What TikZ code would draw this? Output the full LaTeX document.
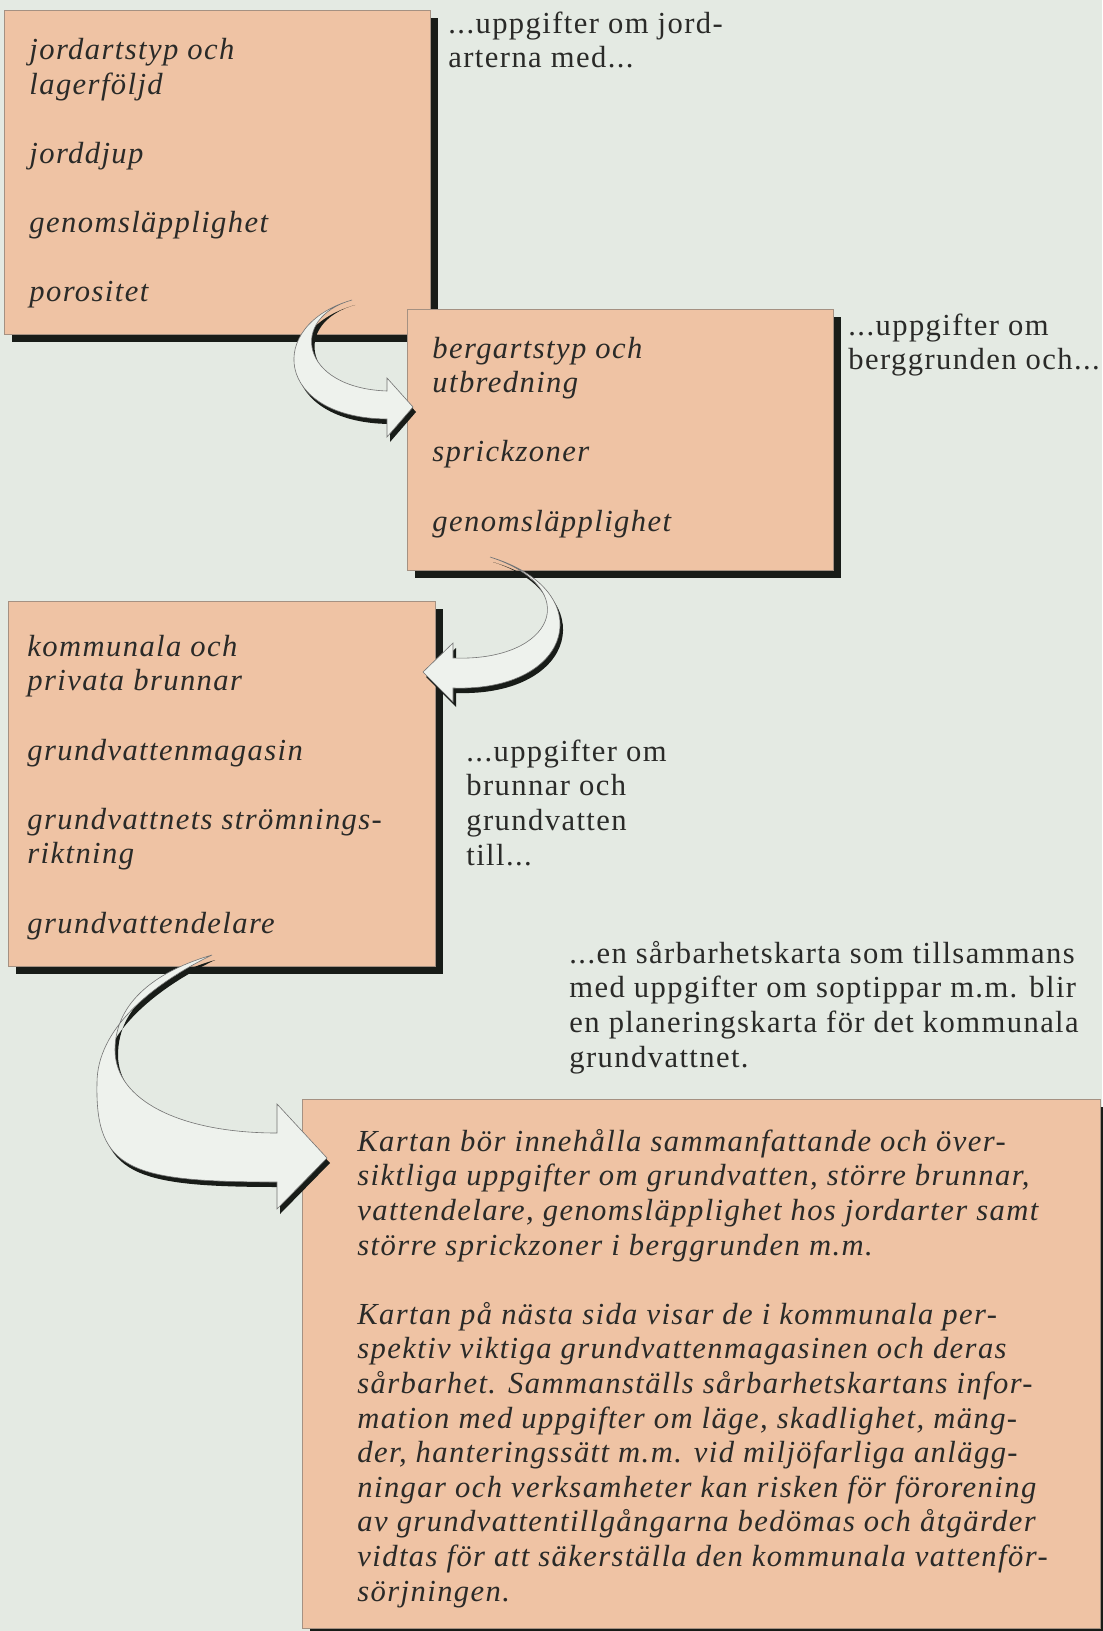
\documentclass[tikz,border=0pt]{standalone}
\usepackage{fontspec}
\setmainfont[LetterSpace=4.6]{Liberation Serif}
\definecolor{paper}{RGB}{228,234,227}
\definecolor{salmon}{RGB}{239,195,164}
\definecolor{shade}{RGB}{24,28,24}
\definecolor{ink}{RGB}{42,42,40}
\definecolor{rim}{RGB}{165,145,130}
\definecolor{bend}{RGB}{238,242,237}
\tikzset{
  font={\fontsize{15.3}{17.3}\selectfont},
  card/.style={fill=salmon,draw=rim,line width=0.3pt},
  cardshadow/.style={fill=shade},
  item/.style={anchor=base west,align=left,inner sep=0pt,text=ink,font={\fontsize{15.3}{17.3}\selectfont\itshape}},
  note/.style={anchor=base west,align=left,inner sep=0pt,text=ink},
  bendface/.style={fill=bend,draw=black!55,line width=0.3pt},
  bendshadow/.style={fill=shade,shift={(3,5)}}}

\begin{document}
\begin{tikzpicture}[x=0.5pt,y=-0.5pt]
\useasboundingbox (0,0) rectangle (1102,1631);
\fill [paper] (0,0) rectangle (1102,1631);
% boxes
\fill [cardshadow] (12,18) rectangle (438,342);
\draw [card] (4,10) rectangle (430,334);
\fill [cardshadow] (415,317) rectangle (841,578);
\draw [card] (407,309) rectangle (833,570);
\fill [cardshadow] (16,609) rectangle (443,974);
\draw [card] (8,601) rectangle (435,966);
\fill [cardshadow] (310,1107) rectangle (1110,1640);
\draw [card] (302,1099) rectangle (1100,1628);
% box texts (placed at the baseline of the last line)
\node [item] (jord) at (29,302) {jordartstyp och\\lagerföljd\\[17.3pt]jorddjup\\[17.3pt]genomsläpplighet\\[17.3pt]porositet};
\node [item] (berg) at (432,531) {bergartstyp och\\utbredning\\[17.3pt]sprickzoner\\[17.3pt]genomsläpplighet};
\node [item] (brunn) at (27,933) {kommunala och\\privata brunnar\\[17.3pt]grundvattenmagasin\\[17.3pt]grundvattnets strömnings-\\riktning\\[17.3pt]grundvattendelare};
\node [item] (karta) at (357,1601) {Kartan bör innehålla sammanfattande och över-\\siktliga uppgifter om grundvatten, större brunnar,\\vattendelare, genomsläpplighet hos jordarter samt\\större sprickzoner i berggrunden m.m.\\[17.3pt]Kartan på nästa sida visar de i kommunala per-\\spektiv viktiga grundvattenmagasinen och deras\\sårbarhet. Sammanställs sårbarhetskartans infor-\\mation med uppgifter om läge, skadlighet, mäng-\\der, hanteringssätt m.m. vid miljöfarliga anlägg-\\ningar och verksamheter kan risken för förorening\\av grundvattentillgångarna bedömas och åtgärder\\vidtas för att säkerställa den kommunala vattenför-\\sörjningen.};
% side notes
\node [note] (jordnote) at (448,68) {...uppgifter om jord-\\arterna med...};
\node [note] (bergnote) at (848,370) {...uppgifter om\\berggrunden och...};
\node [note] (brunnote) at (466,865) {...uppgifter om\\brunnar och\\grundvatten\\till...};
\node [note] (kartnote) at (569,1067) {...en sårbarhetskarta som tillsammans\\med uppgifter om soptippar m.m. blir\\en planeringskarta för det kommunala\\grundvattnet.};
% bent arrows
\fill [bendshadow] (352,300) .. controls (265,325) and (275,418) .. (387,419) -- (387,437) -- (413,407) -- (387,378) -- (387,391) .. controls (300,388) and (288,318) .. (352,300) -- cycle;
\draw [bendface] (352,300) .. controls (265,325) and (275,418) .. (387,419) -- (387,437) -- (413,407) -- (387,378) -- (387,391) .. controls (300,388) and (288,318) .. (352,300) -- cycle;
\fill [bendshadow] (490,557) .. controls (600,590) and (575,692) .. (453,688) -- (453,702) -- (423,672) -- (453,643) -- (453,658) .. controls (555,662) and (585,588) .. (490,557) -- cycle;
\draw [bendface] (490,557) .. controls (600,590) and (575,692) .. (453,688) -- (453,702) -- (423,672) -- (453,643) -- (453,658) .. controls (555,662) and (585,588) .. (490,557) -- cycle;
\fill [bendshadow] (212,955) .. controls (150,985) and (97,1030) .. (97,1083) .. controls (95,1170) and (130,1182) .. (277,1182) -- (277,1209) -- (327,1158) -- (277,1104) -- (277,1133) .. controls (180,1133) and (115,1100) .. (115,1050) .. controls (115,1000) and (160,970) .. (212,955) -- cycle;
\draw [bendface] (212,955) .. controls (150,985) and (97,1030) .. (97,1083) .. controls (95,1170) and (130,1182) .. (277,1182) -- (277,1209) -- (327,1158) -- (277,1104) -- (277,1133) .. controls (180,1133) and (115,1100) .. (115,1050) .. controls (115,1000) and (160,970) .. (212,955) -- cycle;
\end{tikzpicture}
\end{document}
